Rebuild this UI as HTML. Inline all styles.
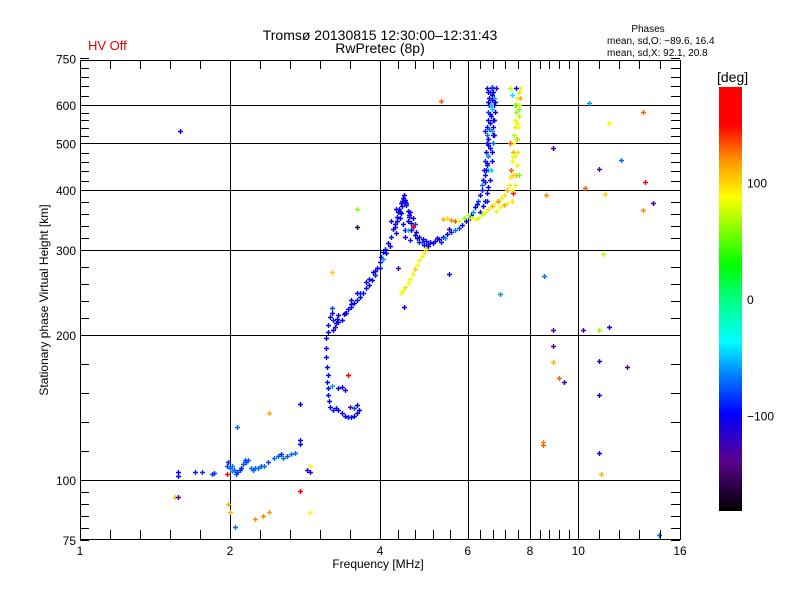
<!DOCTYPE html>
<html><head><meta charset="utf-8"><style>
html,body{margin:0;padding:0;background:#fff;}
svg{display:block;font-family:"Liberation Sans",sans-serif;}
</style></head><body>
<svg id="chart" width="800" height="600" viewBox="0 0 800 600" xmlns="http://www.w3.org/2000/svg">
<defs>
<linearGradient id="cmap" x1="0" y1="1" x2="0" y2="0">
<stop offset="0" stop-color="#000000"/>
<stop offset="0.12" stop-color="#5a0090"/>
<stop offset="0.23" stop-color="#0000ff"/>
<stop offset="0.32" stop-color="#0080ff"/>
<stop offset="0.40" stop-color="#00ffff"/>
<stop offset="0.50" stop-color="#00ff80"/>
<stop offset="0.58" stop-color="#00ff00"/>
<stop offset="0.74" stop-color="#ffff00"/>
<stop offset="0.83" stop-color="#ff9000"/>
<stop offset="0.91" stop-color="#ff0000"/>
<stop offset="1" stop-color="#ff0000"/>
</linearGradient>
</defs>
<text x="380" y="40" font-size="14" text-anchor="middle">Tromsø 20130815 12:30:00–12:31:43</text>
<text x="380" y="53" font-size="14" text-anchor="middle">RwPretec (8p)</text>
<text x="88" y="50" font-size="13" fill="#e00000">HV Off</text>
<text x="648" y="32" font-size="10" text-anchor="middle">Phases</text>
<text x="607" y="44" font-size="10">mean, sd,O: −89.6, 16.4</text>
<text x="607" y="56" font-size="10">mean, sd,X:  92.1, 20.8</text>
<text transform="translate(48,300) rotate(-90)" font-size="12" text-anchor="middle">Stationary phase Virtual Height [km]</text>
<text x="378" y="568" font-size="12" text-anchor="middle">Frequency [MHz]</text>
<g id="grid"></g>
<g id="marks"></g>
<g id="axes"></g>
<rect x="719" y="87" width="23" height="424" fill="url(#cmap)"/>
<text x="717" y="82" font-size="14">[deg]</text>
<g id="cbticks"></g>
</svg>
<script>
const xMajor = [1, 2, 4, 6, 8, 10, 16];
const yMajor = [75, 100, 200, 300, 400, 500, 600, 750];
const cbTicks = [100, 0, -100];
const freqs = [
1.57,1.57,1.70,1.76,1.84,1.86,1.97,1.98,2.0,2.02,2.04,2.06,2.07,2.09,2.1,2.12,2.15,2.17,2.2,2.22,2.25,2.28,2.31,2.34,2.38,2.45,2.5,2.53,2.56,2.6,2.65,2.7,2.76,2.76,2.86,2.02,2.14,
3.12,3.11,3.12,3.13,3.14,3.13,3.15,3.14,3.16,3.18,3.22,3.27,3.3,3.35,3.4,3.45,3.5,3.55,3.6,3.63,3.6,3.55,3.48,3.3,3.35,3.4,3.2,
3.15,3.15,3.17,3.2,3.22,3.25,3.27,3.3,3.35,3.38,3.42,3.45,3.5,3.55,3.6,3.65,3.7,3.75,3.8,3.85,3.9,3.95,4.0,4.02,4.05,4.1,4.12,4.15,4.2,4.25,4.28,4.32,4.36,4.4,4.45,4.5,4.52,4.55,4.58,4.62,4.66,4.72,4.8,4.88,4.95,5.05,5.15,5.25,5.35,5.45,5.55,5.65,5.75,5.85,
3.2,3.3,3.5,3.6,3.75,3.88,4.0,4.05,4.18,4.3,4.38,4.42,4.48,4.35,4.6,4.65,4.55,4.7,4.5,4.45,4.7,4.9,5.0,5.2,5.4,5.5,4.6,4.8,4.2,4.3,4.4,4.5,4.55,4.66,
5.95,6.05,6.1,6.15,6.2,6.25,6.3,6.35,6.4,6.42,6.45,6.48,6.5,6.52,6.55,6.55,6.57,6.6,6.6,6.62,6.62,6.65,6.7,6.75,6.78,6.78,6.8,6.78,6.75,6.78,6.75,6.72,6.7,6.68,6.65,6.6,6.55,6.5,6.45,6.35,6.5,6.55,6.6,6.6,6.7,6.65,6.68,6.72,6.58,6.7,6.55,6.85,6.6,6.65,6.5,6.8,
5.35,5.45,5.55,5.65,5.75,5.9,6.0,6.1,6.2,6.3,6.4,6.5,6.6,6.7,6.8,6.9,7.0,7.1,7.2,7.25,7.3,7.32,7.35,7.38,7.4,7.42,7.45,7.45,7.5,7.5,7.55,7.6,7.65,7.65,7.62,7.6,7.58,7.55,7.55,7.52,7.5,7.45,7.4,7.35,7.2,7.1,6.95,6.85,7.3,7.4,7.45,7.3,7.5,7.35,7.6,
4.4,4.45,4.5,4.55,4.6,4.65,4.7,4.75,4.8,4.85,4.9,4.95,
1.59,5.3,3.6,3.6,3.2,3.45,4.47,4.35,2.07,2.4,2.76,1.55,1.57,2.0,1.98,2.05,2.25,2.33,2.4,2.76,2.9,2.9,2.9,5.5,6.95,8.53,8.6,8.9,8.9,8.9,8.9,9.15,8.5,8.5,9.35,10.2,10.3,10.5,11.5,11.0,11.3,11.2,11.0,11.5,11.0,11.0,11.0,11.1,12.2,12.5,13.5,13.6,13.5,14.1,14.5,1.97,
6.5,6.55,6.6,6.62,6.65,6.7,6.72,6.58,6.52,6.75,6.68,6.6,6.56,6.73,
4.38,4.42,4.47,4.52,4.57,4.33,4.28,4.62,4.75,4.85,5.0,5.1,5.3,
3.22,3.28,3.4,3.5,3.65,3.8,3.9,
7.45,7.5,7.55,7.6,7.4,7.35
];
const heights = [
102,104,104,104,103,103.5,107,109,106,107,105,103,104,105,106,108,109,110,106,105,106,106,107,107,109,111,112,113,111,112,113,114,121,119,105,104.5,110,
197,188,180,172,165,160,155,150,146,142,140,141,140,138,136,135,135,136,138,140,143,141,142,155,156,154,157,
203,210,218,222,215,208,212,213,215,221,222,226,229,233,236,240,244,250,254,260,266,275,283,290,298,302,296,310,320,332,340,352,365,375,385,382,372,362,352,342,335,327,320,316,313,312,313,316,320,324,327,330,333,338,
228,220,236,244,258,270,276,287,306,325,350,370,378,360,360,350,345,340,330,340,322,308,309,318,318,332,315,312,345,365,358,320,330,337,
345,350,355,360,368,374,380,390,400,410,420,440,460,480,500,520,540,560,580,600,620,640,650,640,620,600,580,560,540,520,500,480,460,440,420,405,395,380,370,360,430,450,470,510,530,550,570,590,610,630,650,650,440,490,530,610,
348,350,347,345,345,350,355,350,348,350,356,360,365,370,375,380,385,390,400,410,425,440,460,480,500,520,540,560,580,600,620,640,650,620,600,570,540,510,480,450,430,410,395,380,375,372,368,362,500,470,600,650,650,630,430,
244,248,252,256,262,268,274,280,286,292,297,303,
530,613,365,335,270,165,229,275,129,138,144,92,92,86,89,80,83,84,86,95,86,107,104,268,243,265,390,490,205,190,176,163,120,118,160,205,403,605,550,442,392,295,205,208,177,150,114,103,461,172,581,416,363,375,77,103,
415,455,495,535,575,615,655,470,440,560,600,640,380,520,
360,380,390,375,355,345,335,330,318,312,306,310,312,
205,216,222,232,245,262,272,
470,510,550,590,430,400
];
const phases = [
-100,-100,-90,-85,-80,-85,-80,-90,-75,-70,-80,-75,-85,-80,-90,-75,-80,-75,-70,-75,-75,-70,-75,-70,-80,-70,-75,-90,-70,-75,-70,-70,-100,-100,-110,-60,-80,
-100,-95,-100,-95,-100,-100,-95,-100,-100,-95,-90,-100,-95,-100,-100,-100,-95,-100,-100,-100,-100,-80,-140,-100,-100,-110,-60,
-100,-95,-100,-100,-90,-110,-100,-95,-100,-100,-100,-95,-100,-100,-95,-100,-100,-95,-100,-100,-90,-100,-100,-95,-100,-90,-100,-100,-95,-100,-100,-95,-100,-95,-100,-100,-100,-95,-100,-100,-80,-100,-100,-110,-100,-100,-95,-100,-100,-100,-90,-70,-80,-100,
-80,-110,-100,-100,-100,-100,-100,-60,-100,-100,-100,-110,-100,-100,-110,-100,-100,-80,-100,-100,-100,-100,-100,-100,-60,-100,-90,-100,-100,-100,-100,-100,-50,175,
-100,-90,-100,-60,-100,-100,-80,-100,-100,-70,-100,-100,-90,-100,-100,-70,-100,-100,-80,-100,-100,-90,-100,-100,-60,-100,-100,-100,-110,-100,-70,-100,-100,-50,-100,-100,-100,-100,-100,-100,-110,-100,-130,-100,-60,-100,-100,-50,-100,-100,-100,-120,-40,-100,-100,-100,
110,95,120,130,80,60,70,80,85,75,70,80,95,110,85,120,80,95,110,80,95,130,80,110,85,70,95,80,60,80,85,70,80,110,80,70,85,120,95,80,110,85,160,95,80,110,85,80,130,80,50,70,-100,-40,60,
90,80,95,85,90,80,100,85,90,80,95,85,
-100,130,60,-160,100,170,-100,-130,-70,110,-100,110,-130,110,110,-70,120,120,115,170,90,90,-110,-100,-60,-70,120,-130,-130,-140,110,130,120,130,-120,-130,130,-60,90,-130,100,70,60,-100,-110,-120,-100,110,-70,-130,130,150,120,-130,-70,170,
-90,-110,-100,-70,-100,-100,-80,-60,-100,-100,-50,-100,-90,-110,
-100,-110,-100,-90,-100,-100,-110,-100,-100,-80,-100,-100,-90,
-100,-110,-100,-100,-90,-100,-100,
80,70,90,60,100,85
];

const L = 80, R = 680, T = 60, B = 539;
function xs(f) { return L + 150 * Math.log2(f); }
function ys(h) { return 480 - 481.7 * Math.log10(h / 100); }
function cy(p) { return 299 - p * 1.165; }

const stops = [[0,[0,0,0]],[0.12,[90,0,144]],[0.23,[0,0,255]],[0.32,[0,128,255]],[0.40,[0,255,255]],[0.50,[0,255,128]],[0.58,[0,255,0]],[0.74,[255,255,0]],[0.83,[255,144,0]],[0.91,[255,0,0]],[1,[255,0,0]]];
function colorOf(p) {
  let t = Math.max(0, Math.min(1, (p + 180) / 360));
  for (let i = 1; i < stops.length; i++) {
    if (t <= stops[i][0]) {
      const a = stops[i-1], b = stops[i];
      const u = (t - a[0]) / (b[0] - a[0]);
      const c = a[1].map((v, k) => Math.round(v + (b[1][k] - v) * u));
      return 'rgb(' + c.join(',') + ')';
    }
  }
  return 'rgb(255,0,0)';
}

const NS = 'http://www.w3.org/2000/svg';
function mk(tag, attrs, parent) {
  const e = document.createElementNS(NS, tag);
  for (const k in attrs) e.setAttribute(k, attrs[k]);
  parent.appendChild(e);
  return e;
}
const grid = document.getElementById('grid');
const axes = document.getElementById('axes');
const marks = document.getElementById('marks');
const cbt = document.getElementById('cbticks');

xMajor.forEach(v => {
  const x = Math.round(xs(v)) + 0.5;
  if (v > xMajor[0] && v < xMajor[xMajor.length-1]) {
    const l = mk('line', {x1:x, x2:x, y1:T, y2:B, stroke:'#000', 'stroke-width':1}, grid);
    
    
  }
  const t = mk('text', {x:xs(v), y:555, 'font-size':12, 'text-anchor':'middle'}, axes);
  
  
  t.textContent = v;
});
yMajor.forEach(v => {
  const y = Math.round(ys(v)) + 0.5;
  if (v > yMajor[0] && v < yMajor[yMajor.length-1]) {
    const l = mk('line', {x1:L, x2:R, y1:y, y2:y, stroke:'#000', 'stroke-width':1}, grid);
    
    
  }
  const t = mk('text', {x:76, y:ys(v)+5, 'font-size':12, 'text-anchor':'end'}, axes);
  
  
  t.textContent = v;
});
for (let i = 0; i < xMajor.length - 1; i++) {
  const a = xs(xMajor[i]), b = xs(xMajor[i+1]);
  for (let k = 0; k <= 5; k++) {
    const x = Math.round(a + (b - a) * k / 5) + 0.5;
    const len = 9;
    const t1 = mk('line', {x1:x, x2:x, y1:B, y2:B-len, stroke:'#000'}, axes);
    
    
    const t2 = mk('line', {x1:x, x2:x, y1:T, y2:T+len, stroke:'#000'}, axes);
    
    
  }
}
for (let i = 0; i < yMajor.length - 1; i++) {
  const a = ys(yMajor[i]), b = ys(yMajor[i+1]);
  for (let k = 0; k <= 5; k++) {
    const y = Math.round(a + (b - a) * k / 5) + 0.5;
    const t1 = mk('line', {x1:L, x2:L+9, y1:y, y2:y, stroke:'#000'}, axes);
    
    
    const t2 = mk('line', {x1:R, x2:R-9, y1:y, y2:y, stroke:'#000'}, axes);
    
    
  }
}
const frame = mk('rect', {x:L+0.5, y:T+0.5, width:R-L, height:B-T, fill:'none', stroke:'#000', 'stroke-width':1}, axes);



for (let i = 0; i < freqs.length; i++) {
  const x = Math.round(xs(freqs[i])) + 0.5, y = Math.round(ys(heights[i])) + 0.5;
  const p = mk('path', {d:'M'+(x-2.5)+' '+y+'h5M'+x+' '+(y-2.5)+'v5', stroke:colorOf(phases[i]), 'stroke-width':1.4, fill:'none'}, marks);
  
  
}

cbTicks.forEach(v => {
  const t = mk('text', {x:747, y:cy(v)+5, 'font-size':12}, cbt);
  
  
  t.textContent = v === 0 ? '0' : (v < 0 ? '−' + (-v) : String(v));
});
</script>
</body></html>
